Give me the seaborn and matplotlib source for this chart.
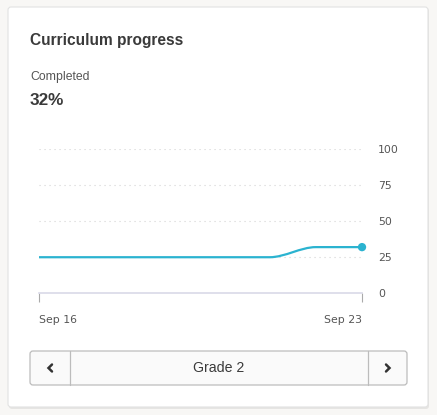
import pandas as pd
import matplotlib.pyplot as plt
import matplotlib.dates as mdates
from matplotlib.path import Path
from matplotlib.patches import PathPatch, FancyBboxPatch
import seaborn as sns

# data
dias = ["2019-09-16", "2019-09-17", "2019-09-18", "2019-09-19",
        "2019-09-20", "2019-09-21", "2019-09-22", "2019-09-23"]
progreso = [25, 25, 25, 25, 25, 25, 32, 32]
ticks_y = [0, 25, 50, 75, 100]
titulo = "Curriculum progress"
subtitulo = "Completed"
valor = "32%"
grado = "Grade 2"

color_linea = "#2bb3d0"
color_txt = "#3a3a3a"
color_gris = "#555555"

sns.set_theme(style="white")
plt.rcParams['font.family'] = ['Liberation Sans', 'DejaVu Sans']

df = pd.DataFrame({"fecha": pd.to_datetime(dias), "pct": progreso})

W, H = 437, 415
fig = plt.figure(figsize=(W / 100, H / 100), dpi=100)
fig.patch.set_facecolor("#f8f7f5")

# capa de fondo en pixeles (tarjeta + boton + textos)
bg = fig.add_axes([0, 0, 1, 1])
bg.set_xlim(0, W)
bg.set_ylim(H, 0)
bg.axis("off")

# sombra y tarjeta
bg.add_patch(FancyBboxPatch((9, 8), 420, 401, boxstyle="round,pad=0,rounding_size=3",
                            fc="#e6e5e3", ec="none", zorder=0))
bg.add_patch(FancyBboxPatch((8, 7), 420, 400, boxstyle="round,pad=0,rounding_size=3",
                            fc="white", ec="#e2e2e2", lw=0.8, zorder=1))

bg.text(30, 41, titulo, fontsize=11.2, fontweight="bold", color=color_txt, va="center", zorder=2)
bg.text(30, 77, subtitulo, fontsize=8.8, color=color_gris, va="center", zorder=2)
bg.text(30, 100, valor, fontsize=12.3, fontweight="bold", color=color_txt, va="center", zorder=2)

# boton de seleccion
bg.add_patch(FancyBboxPatch((30, 351), 377, 34, boxstyle="round,pad=0,rounding_size=3",
                            fc="#fafafa", ec="#bcbcbc", lw=0.9, zorder=2))
bg.plot([70, 70], [351, 385], color="#bcbcbc", lw=0.9, zorder=3)
bg.plot([368, 368], [351, 385], color="#bcbcbc", lw=0.9, zorder=3)
bg.plot([52, 48.5, 52], [364.5, 368, 371.5], color="#333333", lw=1.8, zorder=3,
        solid_capstyle="round", solid_joinstyle="miter")
bg.plot([386, 389.5, 386], [364.5, 368, 371.5], color="#333333", lw=1.8, zorder=3,
        solid_capstyle="round", solid_joinstyle="miter")
bg.text(219, 368, grado, fontsize=10.2, color=color_txt, ha="center", va="center", zorder=3)

# grafico
x0, x1 = 39, 362
y_top, y_bot = 149, 293.3
ax = fig.add_axes([x0 / W, (H - y_bot) / H, (x1 - x0) / W, (y_bot - y_top) / H])
ax.patch.set_alpha(0)

xs = mdates.date2num(df["fecha"])
ys = df["pct"].to_numpy()

# curva suavizada (bezier con tangentes horizontales entre puntos)
verts = [(xs[0], ys[0])]
codes = [Path.MOVETO]
for i in range(1, len(xs)):
    dx = xs[i] - xs[i - 1]
    verts += [(xs[i - 1] + dx / 3, ys[i - 1]), (xs[i] - dx / 3, ys[i]), (xs[i], ys[i])]
    codes += [Path.CURVE4] * 3
ax.add_patch(PathPatch(Path(verts, codes), fc="none", ec=color_linea, lw=1.6,
                       capstyle="round", zorder=3))

sns.scatterplot(x=df["fecha"].iloc[-1:], y=df["pct"].iloc[-1:], ax=ax, s=36,
                color=color_linea, edgecolor="none", zorder=4, clip_on=False)

ax.set_xlim(xs[0], xs[-1])
ax.set_ylim(0, 100)
ax.set_xlabel("")
ax.set_ylabel("")

ax.set_yticks(ticks_y)
ax.yaxis.tick_right()
ax.tick_params(axis="y", length=0, pad=11.5, labelsize=7.8, labelcolor=color_gris,
               left=False, right=False, labelleft=False, labelright=True)
ax.yaxis.grid(True, color="#d4d4d4", linestyle=(0, (1, 3.5)), linewidth=0.8)

ax.set_xticks([xs[0], xs[-1]])
ax.set_xticklabels([df["fecha"].iloc[0].strftime("%b %-d"), df["fecha"].iloc[-1].strftime("%b %-d")])
ax.tick_params(axis="x", length=6.5, width=0.8, color="#aaaaaa", pad=9, labelsize=7.8,
               labelcolor=color_gris, bottom=True, direction="out")
lbls = ax.get_xticklabels()
lbls[0].set_ha("left")
lbls[-1].set_ha("right")
for t in ax.get_xticklabels() + ax.get_yticklabels():
    t.set_fontfamily(["DejaVu Sans"])

for s in ["top", "left", "right"]:
    ax.spines[s].set_visible(False)
ax.spines["bottom"].set_color("#d9d9e8")
ax.spines["bottom"].set_linewidth(1.2)

fig.savefig("out.png", dpi=100, facecolor=fig.get_facecolor())
